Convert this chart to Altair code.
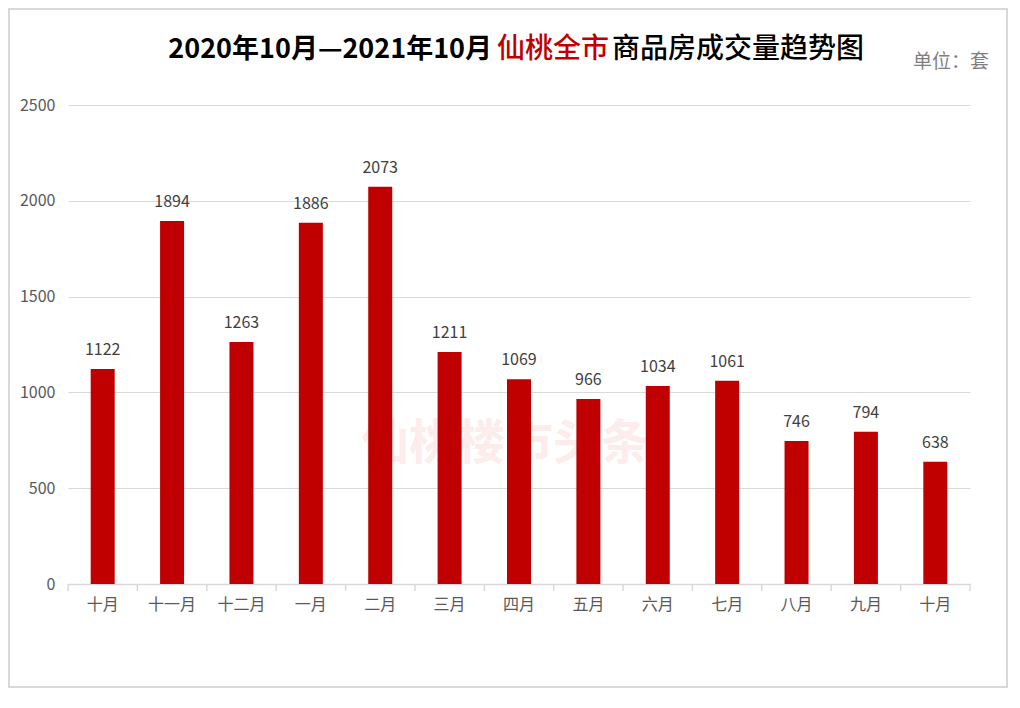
import json
import altair as alt
import pandas as pd

months = ["十月", "十一月", "十二月", "一月", "二月", "三月", "四月", "五月", "六月", "七月", "八月", "九月", "十月"]
values = [1122, 1894, 1263, 1886, 2073, 1211, 1069, 966, 1034, 1061, 746, 794, 638]
y_ticks = [0, 500, 1000, 1500, 2000, 2500]
title_parts = ["2020年10月—2021年10月", "仙桃全市", "商品房成交量趋势图"]
unit_text = ["单位：套"]
watermark = ["仙桃楼市头条"]

df = pd.DataFrame({"idx": list(range(len(months))), "month": months, "value": values})

W, H = 902, 479
PAD = {"left": 60, "top": 97, "right": 38, "bottom": 104}
FONT = "Noto Sans CJK SC"
label_expr = json.dumps(months, ensure_ascii=False) + "[datum.value]"

xscale = alt.Scale(paddingInner=0, paddingOuter=0)
yscale = alt.Scale(domain=[0, 2500], nice=False)

x_enc = alt.X(
    "idx:O",
    scale=xscale,
    axis=alt.Axis(
        title=None,
        labelExpr=label_expr,
        labelAngle=0,
        ticks=False,
        domainColor="#d9d9d9",
        domainWidth=1.5,
        labelColor="#595959",
        labelFontSize=16,
        labelFont=FONT,
        labelPadding=12,
    ),
)
y_enc = alt.Y(
    "value:Q",
    scale=yscale,
    axis=alt.Axis(
        title=None,
        values=y_ticks,
        format="d",
        domain=False,
        ticks=False,
        gridColor="#d9d9d9",
        gridWidth=1.2,
        labelColor="#595959",
        labelFontSize=16,
        labelFont=FONT,
        labelPadding=13,
    ),
)

base = alt.Chart(df)

wm = alt.Chart(pd.DataFrame({"t": watermark})).mark_text(
    font=FONT, fontSize=48, fontWeight="bold", color="#fcecec", align="center", baseline="middle"
).encode(text="t:N", x=alt.value(437), y=alt.value(340))

bars = base.mark_bar(size=24, color="#C00000").encode(x=x_enc, y=y_enc)

labels = base.mark_text(
    font=FONT, fontSize=16, color="#404040", baseline="bottom", dy=-11
).encode(x=alt.X("idx:O", scale=xscale), y=alt.Y("value:Q", scale=yscale), text="value:Q")

ticks = base.mark_rule(color="#d9d9d9", strokeWidth=1.5).encode(
    x=alt.X("idx:O", scale=xscale, bandPosition=0), y=alt.value(H), y2=alt.value(H + 7)
)
last_tick = alt.Chart(pd.DataFrame({"a": [0]})).mark_rule(color="#d9d9d9", strokeWidth=1.5).encode(
    x=alt.value(W), y=alt.value(H), y2=alt.value(H + 7)
)

t1 = alt.Chart(pd.DataFrame({"t": [title_parts[0]]})).mark_text(
    font=FONT, fontSize=27, fontWeight="bold", color="#000000", align="right", baseline="middle"
).encode(text="t:N", x=alt.value(424), y=alt.value(-55))
t2 = alt.Chart(pd.DataFrame({"t": [title_parts[1]]})).mark_text(
    font=FONT, fontSize=28, fontWeight=500, color="#C00000", align="left", baseline="middle"
).encode(text="t:N", x=alt.value(429), y=alt.value(-55))
t3 = alt.Chart(pd.DataFrame({"t": [title_parts[2]]})).mark_text(
    font=FONT, fontSize=28, fontWeight=500, color="#000000", align="left", baseline="middle"
).encode(text="t:N", x=alt.value(544), y=alt.value(-55))
unit = alt.Chart(pd.DataFrame({"t": unit_text})).mark_text(
    font=FONT, fontSize=19, color="#7f7f7f", align="left", baseline="middle"
).encode(text="t:N", x=alt.value(845), y=alt.value(-43))

border = alt.Chart(pd.DataFrame({"a": [0]})).mark_rect(
    fillOpacity=0, stroke="#d9d9d9", strokeWidth=2
).encode(
    x=alt.value(-PAD["left"] + 1),
    x2=alt.value(W + PAD["right"] - 1),
    y=alt.value(-PAD["top"] + 1),
    y2=alt.value(H + PAD["bottom"] - 1),
)

chart = (
    alt.layer(wm, bars, labels, ticks, last_tick, t1, t2, t3, unit, border)
    .properties(width=W, height=H, padding=PAD, autosize="none", background="white")
    .configure_view(strokeWidth=0)
)

chart.save("out.html", embed_options={"renderer": "svg", "actions": False})
